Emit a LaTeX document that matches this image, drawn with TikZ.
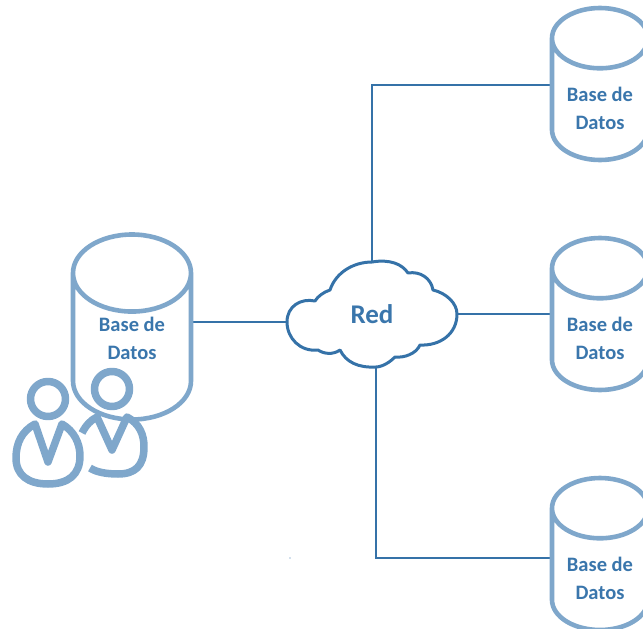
\documentclass[tikz,border=0pt]{standalone}
\usepackage{fontspec}
\setmainfont{Carlito}
\usetikzlibrary{shapes.geometric}
\definecolor{trazo}{HTML}{7FA7CB}
\definecolor{linea}{HTML}{3572A8}
\definecolor{texto}{HTML}{3A76AC}

\begin{document}
\begin{tikzpicture}[x=1pt,y=-1pt]
% estilo de los nodos
\tikzstyle{base}=[cylinder,shape border rotate=90,draw=trazo,line width=4.6pt,fill=white,outer sep=0pt,inner sep=0pt,
  anchor=shape center,text width=67pt]
\tikzstyle{basechica}=[base,minimum height=152pt,minimum width=96pt,aspect=0.9,text height=48pt,text depth=0pt]
\tikzstyle{basegrande}=[base,minimum height=185pt,minimum width=118pt,aspect=1.15,text height=42pt,text depth=18pt]
\tikzstyle{etiqueta}=[text=texto,align=center,font=\fontsize{20.5}{28}\selectfont\bfseries]
% estilo de las conexiones
\tikzstyle{conexion}=[draw=linea,line width=2pt]
% estilo de los usuarios
\tikzstyle{usuario}=[draw=trazo,line width=7.5pt,line join=round]
\useasboundingbox (0,0) rectangle (643,629);
\clip (0,0) rectangle (643,629);
% puntos de la nube
\coordinate (RN) at (372,262);
\coordinate (RE) at (457,314);
\coordinate (RS) at (376,367);
\coordinate (RW) at (287,322);
% placement de las conexiones
\draw[conexion] (RN) |- (600,85) coordinate (FA);
\draw[conexion] (RE) -- (600,314) coordinate (FB);
\draw[conexion] (RS) |- (600,558) coordinate (FC);
\draw[conexion] (RW) -- (130,322) coordinate (FD);
% placement de los nodos
\node[basegrande] (DBL) at (132,327) {};
\node[basechica] (DBA) at (600,84) {};
\node[basechica] (DBB) at (600,314) {};
\node[basechica] (DBC) at (600,554) {};
\node[etiqueta] (TL) at (132,338) {Base de\\Datos};
\node[etiqueta] (TA) at (600,108) {Base de\\Datos};
\node[etiqueta] (TB) at (600,338) {Base de\\Datos};
\node[etiqueta] (TC) at (600,578) {Base de\\Datos};
% la nube
\draw[draw=linea,line width=3pt,fill=white,line join=round] (RW)
  .. controls (287,306) and (301,298) .. (315,301)
  .. controls (318,296) and (324,292) .. (330,290)
  .. controls (336,272) and (354,262) .. (372,262)
  .. controls (390,259) and (402,264) .. (408,273)
  .. controls (420,271) and (431,278) .. (433,290)
  .. controls (446,293) and (457,303) .. (RE)
  .. controls (457,334) and (440,346) .. (420,345)
  .. controls (416,354) and (404,358) .. (395,357)
  .. controls (386,366) and (378,367) .. (RS)
  .. controls (358,368) and (346,362) .. (340,350)
  .. controls (333,355) and (324,354) .. (318,350)
  .. controls (300,352) and (287,338) .. (RW) -- cycle;
\node[text=texto,font=\fontsize{27}{28}\selectfont\bfseries] (RED) at (372,314) {Red};
% los usuarios
\draw[usuario,fill=white] (82,433) .. controls (86,425) and (91,420) .. (97,417) -- (112,450) -- (127,417)
  .. controls (140,424) and (144,435) .. (144,447)
  .. controls (144,466) and (135,474) .. (118,474)
  .. controls (106,474) and (96,472) .. (90,468);
\draw[usuario,fill=white] (112,389) circle (17.5pt);
\draw[usuario,fill=white] (48,399) circle (17.5pt);
\draw[usuario,fill=white] (35,424) -- (48,462) -- (62,424)
  .. controls (74,431) and (80,443) .. (80,456)
  .. controls (80,475) and (68,484) .. (48,484)
  .. controls (28,484) and (16,475) .. (16,458)
  .. controls (16,443) and (22,431) .. (35,424) -- cycle;
\fill[trazo!70] (290,558) circle (0.8pt);
\end{tikzpicture}
\end{document}
